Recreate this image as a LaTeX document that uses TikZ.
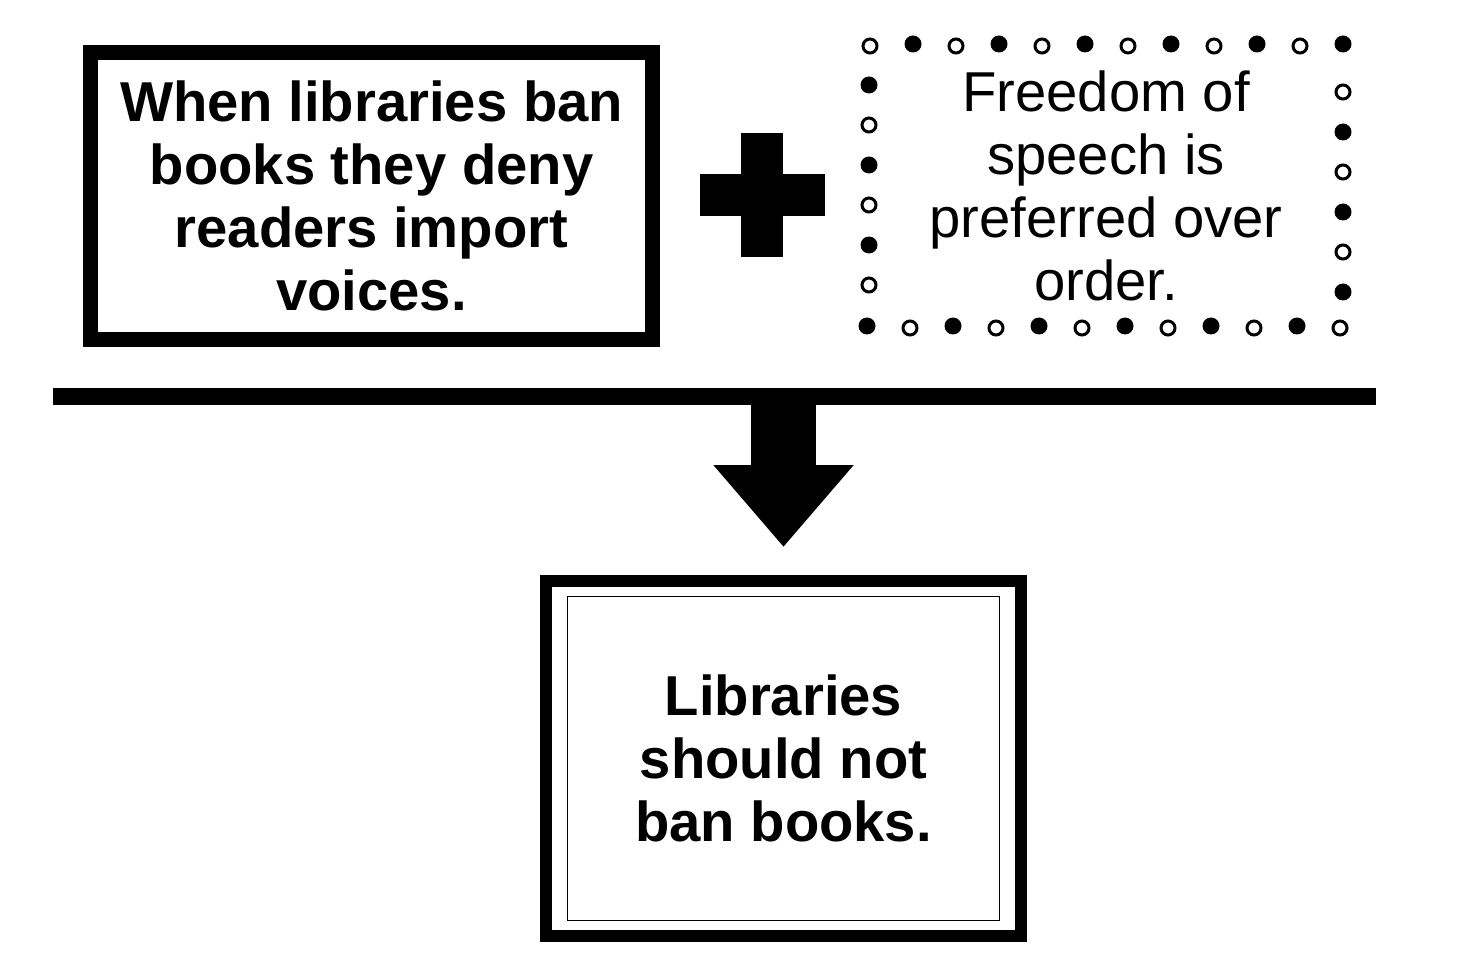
\documentclass[tikz,border=0pt]{standalone}
\usepackage{fontspec}
\setmainfont{Liberation Sans}
\usetikzlibrary{positioning,arrows.meta,calc}
\tikzset{claim/.style={draw,line width=0.3cm,align=center,font=\fontsize{32}{36}\selectfont\bfseries,inner sep=0pt},
dotf/.style={fill=black,circle,inner sep=0pt,minimum size=0.34cm},
doto/.style={draw,line width=0.06cm,circle,inner sep=0pt,minimum size=0.28cm}}
\begin{document}
\begin{tikzpicture}[x=0.02cm,y=-0.02cm]
\useasboundingbox (0,0) rectangle (1466,962);
\node[claim,minimum width=11.24cm,minimum height=5.74cm] (reason) at (371.5,196) {When libraries ban\\books they deny\\readers import\\voices.};
\node[fill=black,minimum width=2.5cm,minimum height=0.84cm,inner sep=0pt] (plush) at (762,195) {};
\node[fill=black,minimum width=0.84cm,minimum height=2.5cm,inner sep=0pt] (plusv) at (762,195) {};
\node[align=center,font=\fontsize{32}{36}\selectfont] (warrant) at (1106,186) {Freedom of\\speech is\\preferred over\\order.};
% dotted frame
\foreach \i in {0,...,11} {\pgfmathsetmacro\xx{870+\i*43}
  \ifodd\i \node[dotf] at (\xx,44) {}; \node[doto] at (\xx-3,328) {}; \else \node[doto] at (\xx,46) {}; \node[dotf] at (\xx-3,326) {}; \fi}
\foreach \i in {1,...,6} {\pgfmathsetmacro\yy{45+\i*40}
  \ifodd\i \node[dotf] at (869,\yy) {}; \node[doto] at (1343,\yy+7) {}; \else \node[doto] at (869,\yy) {}; \node[dotf] at (1343,\yy+7) {}; \fi}
\node[fill=black,minimum width=26.46cm,minimum height=0.34cm,inner sep=0pt] (bar) at (714.5,396.5) {};
\node[claim,line width=0.24cm,minimum width=9.5cm,minimum height=7.1cm] (claim) at (783.5,758.5) {Libraries\\should not\\ban books.};
\draw[line width=0.02cm] ($(claim.north west)+(27,21)$) rectangle ($(claim.south east)+(-27,-21)$);
\draw[line width=1.3cm,-{Triangle[width=2.7cm,length=1.64cm]}] (claim.north |- bar.south) -- ($(claim.north)+(0,-28)$);
\end{tikzpicture}
\end{document}
